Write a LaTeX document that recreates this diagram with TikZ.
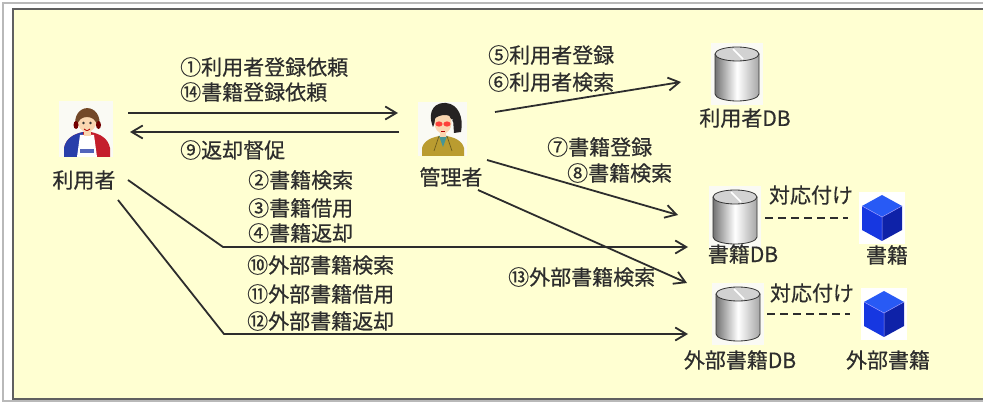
\documentclass[tikz,border=0pt]{standalone}
\usepackage{fontspec}
\setmainfont{Noto Sans CJK JP}[FakeBold=0.5]
\usetikzlibrary{arrows.meta}

\definecolor{paper}{RGB}{255,255,210}
\definecolor{ink}{RGB}{45,45,45}
\definecolor{iconbg}{RGB}{250,250,244}
\definecolor{skin}{RGB}{250,214,176}
\definecolor{hairbrown}{RGB}{115,72,40}
\definecolor{hairdark}{RGB}{38,34,34}
\definecolor{jacketred}{RGB}{196,30,44}
\definecolor{jacketblue}{RGB}{40,62,170}
\definecolor{jacketolive}{RGB}{186,156,48}
\definecolor{shirtteal}{RGB}{70,150,150}
\definecolor{cubetop}{RGB}{40,90,245}
\definecolor{cubeleft}{RGB}{22,55,225}
\definecolor{cuberight}{RGB}{14,34,168}

\tikzset{
  lbl/.style={font=\fontsize{21}{21}\selectfont, text=ink, inner sep=0pt},
  flow/.style={draw=ink, line width=1.8pt, -{Straight Barb[length=11pt,width=13pt]}},
  link/.style={draw=ink, line width=2pt, dash pattern=on 8pt off 5pt},
  dbcyl/.pic={
    \fill[iconbg] (-26,-31) rectangle (26,31);
    \shade[left color=gray!90!black, right color=gray!70, middle color=white]
      (-22,-20) -- (-22,20) arc[start angle=180, end angle=0, x radius=22, y radius=7]
      -- (22,-20) -- cycle;
    \draw[black!80, line width=0.8pt]
      (-22,-20) -- (-22,20) arc[start angle=180, end angle=0, x radius=22, y radius=7]
      -- (22,-20);
    \filldraw[fill=gray!35, draw=black!80, line width=0.8pt] (0,-20) ellipse[x radius=22, y radius=7];
    \draw[white, line width=1.5pt] (-4,-25) -- (6,-15);
  },
  cube/.pic={
    \fill[white] (-23,-26) rectangle (23,26);
    \fill[cubetop] (0,-23) -- (20,-12) -- (0,-1) -- (-20,-12) -- cycle;
    \fill[cubeleft] (-20,-12) -- (0,-1) -- (0,23) -- (-20,12) -- cycle;
    \fill[cuberight] (0,-1) -- (20,-12) -- (20,12) -- (0,23) -- cycle;
    \draw[blue!40!white, line width=0.5pt] (-20,-12) -- (0,-1) -- (20,-12) (0,-1) -- (0,23);
  },
  usericon/.pic={
    \fill[iconbg] (-28,-28) rectangle (26,28);
    \fill[jacketred] (-23,28) -- (-23,19) .. controls (-21,9) and (-13,5) .. (-4,3) -- (4,3)
      .. controls (13,5) and (21,9) .. (23,19) -- (23,28) -- cycle;
    \fill[jacketblue] (-23,28) -- (-23,19) .. controls (-21,9) and (-13,5) .. (-4,3) -- (-6,28) -- cycle;
    \fill[white] (-10,28) -- (-7,6) -- (7,6) -- (10,28) -- cycle;
    \fill[jacketblue!80] (-7,20) rectangle (7,24);
    \fill[skin] (-3.5,-1) rectangle (3.5,7);
    \fill[skin] (0,-8) ellipse[x radius=9.5, y radius=11];
    \fill[hairbrown] (-11.5,-1) .. controls (-16,-27) and (16,-28) .. (12.5,-1)
      -- (10,-3) .. controls (9.5,-9) and (5,-12) .. (0,-12)
      .. controls (-5,-12) and (-9.5,-9) .. (-9.5,-3) -- cycle;
    \fill[red!45!black] (-11,-4) ellipse[x radius=2.5, y radius=4];
    \fill[red!45!black] (11.5,-4) ellipse[x radius=2.5, y radius=4];
    \fill[black!80] (-3.5,-6) circle (1.3);
    \fill[black!80] (3.5,-6) circle (1.3);
    \draw[red!70!black, line width=0.8pt] (-3,0) .. controls (0,2) .. (3,0);
  },
  mgricon/.pic={
    \fill[iconbg] (-25,-27) rectangle (24,27);
    \fill[hairdark] (-10,-2) .. controls (-17,-20) and (-6,-27) .. (3,-26)
      .. controls (15,-25) and (21,-12) .. (18,3) -- (11,4) -- (10,-10) -- (-6,-12) -- cycle;
    \fill[jacketolive] (-21,27) -- (-21,19) .. controls (-19,11) and (-10,8) .. (-3,7) -- (3,7)
      .. controls (10,8) and (19,11) .. (21,19) -- (21,27) -- cycle;
    \fill[shirtteal] (-4,7) -- (4,7) -- (0,18) -- cycle;
    \draw[jacketolive!60!black, line width=0.7pt] (-4,7) -- (-9,22) (4,7) -- (9,22);
    \fill[skin] (-3,0) rectangle (3,8);
    \fill[skin] (0,-6) ellipse[x radius=8.5, y radius=10.5];
    \fill[hairdark] (-9,-7) .. controls (-10,-21) and (8,-22) .. (10,-7)
      -- (7,-13) .. controls (2,-15) and (-3,-14) .. (-8,-11) -- cycle;
    \fill[red!85!white, opacity=0.85] (-4,-5) ellipse[x radius=3.6, y radius=2.6];
    \fill[red!85!white, opacity=0.85] (4,-5) ellipse[x radius=3.6, y radius=2.6];
    \draw[red!70!black, line width=0.6pt] (-2,2) -- (2,2);
  }
}

\begin{document}
\begin{tikzpicture}[x=1pt, y=-1pt]
\useasboundingbox (0,0) rectangle (983,403);

% frame and background
\fill[white] (0,0) rectangle (983,403);
\draw[gray!55, line width=1.5pt] (995,3) -- (3,3) -- (3,401) -- (995,401);
\fill[paper] (13,9) rectangle (995,399);
\draw[gray!75!black, line width=2pt] (995,9) -- (13,9) -- (13,399) -- (995,399);

% actors
\pic at (87,129) {usericon};
\node[lbl] (user) at (84,180) {利用者};
\pic at (443,129) {mgricon};
\node[lbl] (mgr) at (451,177) {管理者};

% databases
\pic at (737,74) {dbcyl};
\node[lbl] (userdb) at (745,118) {利用者DB};
\pic at (735,217) {dbcyl};
\node[lbl] (bookdb) at (743,254) {書籍DB};
\pic at (738,314) {dbcyl};
\node[lbl] (extdb) at (740,360) {外部書籍DB};

% books
\pic at (882,218) {cube};
\node[lbl] (book) at (887,255) {書籍};
\pic at (884,314) {cube};
\node[lbl] (extbook) at (888,360) {外部書籍};

% connector end points
\coordinate (u-a) at (128,113);   \coordinate (m-a) at (398,113);
\coordinate (m-b) at (399,132);   \coordinate (u-b) at (130,132);
\coordinate (u-c) at (128,180);   \coordinate (u-cb) at (223,247); \coordinate (bdb-a) at (688,247);
\coordinate (u-d) at (118,200);   \coordinate (u-db) at (224,334); \coordinate (xdb-a) at (688,334);
\coordinate (m-e) at (495,112);   \coordinate (udb-a) at (681,82);
\coordinate (m-f) at (487,160);   \coordinate (bdb-b) at (678,215);
\coordinate (m-g) at (478,190);   \coordinate (xdb-b) at (687,283);
\coordinate (bdb-c) at (765,218); \coordinate (bk-a) at (848,218);
\coordinate (xdb-c) at (767,314); \coordinate (xbk-a) at (850,314);

% connectors
\draw[flow] (u-a) -- (m-a);
\draw[flow] (m-b) -- (u-b);
\draw[flow] (u-c) -- (u-cb) -- (bdb-a);
\draw[flow] (u-d) -- (u-db) -- (xdb-a);
\draw[flow] (m-e) -- (udb-a);
\draw[flow] (m-f) -- (bdb-b);
\draw[flow] (m-g) -- (xdb-b);
\draw[link] (bdb-c) -- (bk-a);
\draw[link] (xdb-c) -- (xbk-a);

% connector labels
\node[lbl, anchor=west] (t1)  at (180,67)  {①利用者登録依頼};
\node[lbl, anchor=west] (t14) at (180,92)  {⑭書籍登録依頼};
\node[lbl, anchor=west] (t9)  at (180,150) {⑨返却督促};
\node[lbl, anchor=west] (t2)  at (248,180) {②書籍検索};
\node[lbl, anchor=west] (t3)  at (248,208) {③書籍借用};
\node[lbl, anchor=west] (t4)  at (248,233) {④書籍返却};
\node[lbl, anchor=west] (t10) at (247,265) {⑩外部書籍検索};
\node[lbl, anchor=west] (t11) at (247,294) {⑪外部書籍借用};
\node[lbl, anchor=west] (t12) at (247,321) {⑫外部書籍返却};
\node[lbl, anchor=west] (t5)  at (488,55)  {⑤利用者登録};
\node[lbl, anchor=west] (t6)  at (488,82)  {⑥利用者検索};
\node[lbl, anchor=west] (t7)  at (547,147) {⑦書籍登録};
\node[lbl, anchor=west] (t8)  at (567,173) {⑧書籍検索};
\node[lbl, anchor=west] (t13) at (508,277) {⑬外部書籍検索};
\node[lbl] (c1) at (811,195) {対応付け};
\node[lbl] (c2) at (812,293) {対応付け};
\end{tikzpicture}
\end{document}
